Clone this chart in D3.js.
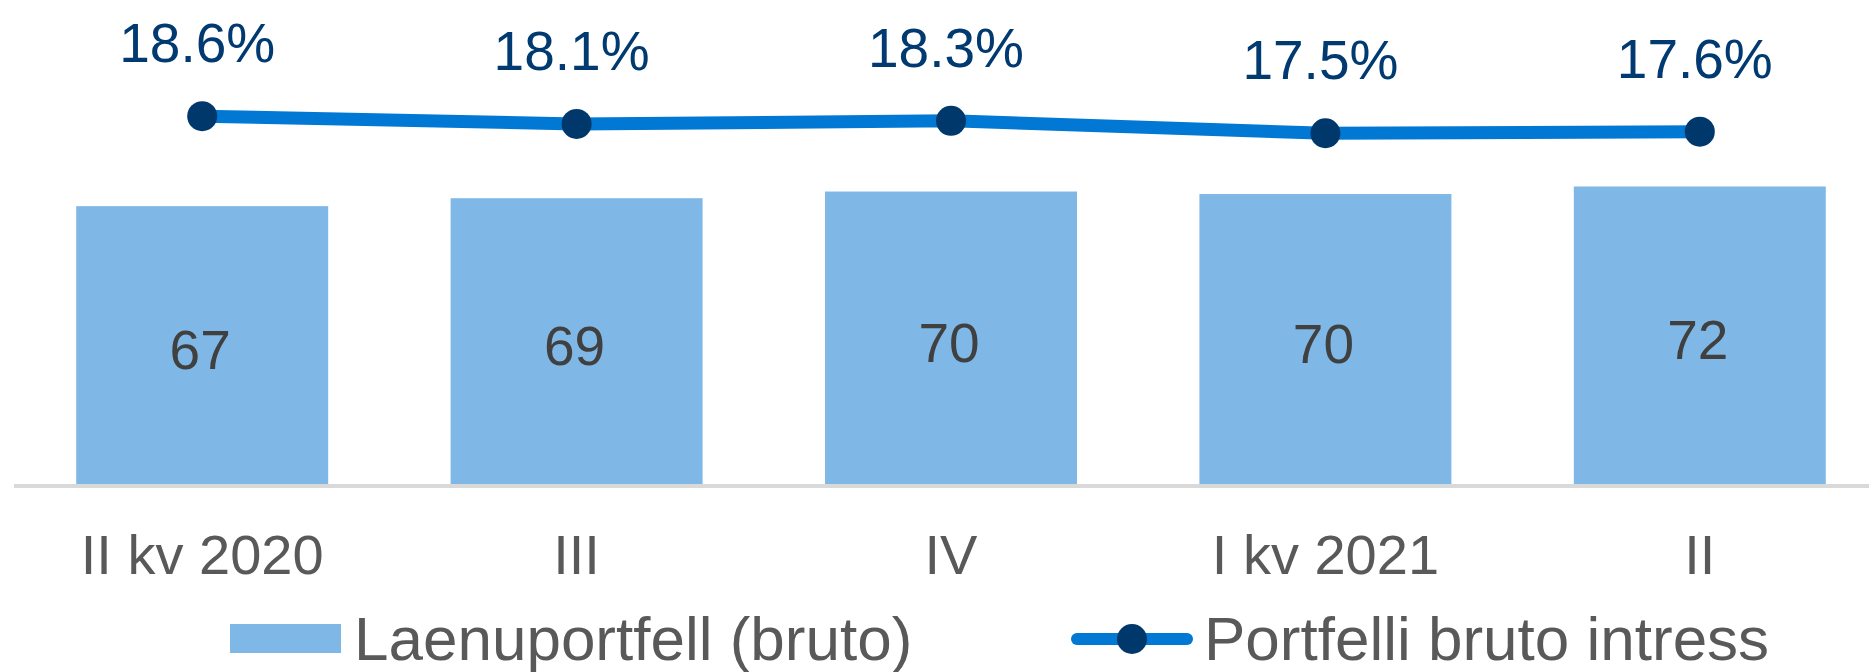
<!DOCTYPE html>
<html>
<head>
<meta charset="utf-8">
<script src="https://cdn.jsdelivr.net/npm/d3@7"></script>
<style>
  html, body { margin: 0; padding: 0; background: #fff; }
  svg { display: block; font-family: "Liberation Sans", Arial, sans-serif; }
</style>
</head>
<body>
<script>
// chart data
var categories = ["II kv 2020", "III", "IV", "I kv 2021", "II"];
var portfolio = [66.9, 68.8, 70.4, 69.8, 71.6];     // Laenuportfell (bruto)
var interest = [18.6, 18.1, 18.3, 17.5, 17.6];      // Portfelli bruto intress, %
var seriesNames = ["Laenuportfell (bruto)", "Portfelli bruto intress"];

var size = { x: 1869, y: 672 };
var baseY = 486;

var svg = d3.select("body").append("svg")
    .attr("width", size.x)
    .attr("height", size.y);

var x = d3.scaleBand()
    .domain(categories)
    .range([15, 1887])
    .paddingInner(0.327)
    .paddingOuter(0.1635);

var y = d3.scaleLinear()
    .domain([0, 100])
    .range([baseY, baseY - 418.3]);

var y2 = d3.scaleLinear()
    .domain([16, 19])
    .range([156.5, 110]);

function cx(d) { return x(d) + x.bandwidth() / 2; }

// bars
svg.append("g").selectAll("rect")
    .data(portfolio)
    .enter().append("rect")
      .attr("x", (d, i) => x(categories[i]))
      .attr("y", d => y(d))
      .attr("width", x.bandwidth())
      .attr("height", d => baseY - y(d))
      .attr("fill", "#7fb8e6");

// bar labels
svg.append("g").selectAll("text")
    .data(portfolio)
    .enter().append("text")
      .attr("x", (d, i) => cx(categories[i]) - 2)
      .attr("y", d => (y(d) + baseY) / 2 + 23)
      .attr("text-anchor", "middle")
      .attr("font-size", 55)
      .attr("fill", "#404040")
      .text(d => Math.round(d));

// category axis
var axis = svg.append("g")
    .attr("transform", "translate(0," + baseY + ")")
    .call(d3.axisBottom(x).tickSize(0).tickPadding(0));
axis.select(".domain").remove();
axis.append("line")
    .attr("x1", 14).attr("x2", size.x)
    .attr("stroke", "#d9d9d9")
    .attr("stroke-width", 4);
axis.selectAll(".tick text")
    .attr("dy", 0)
    .attr("y", 574 - baseY)
    .attr("font-size", 56)
    .attr("font-family", "Liberation Sans, Arial, sans-serif")
    .attr("fill", "#595959");

// interest line
var line = d3.line()
    .x((d, i) => cx(categories[i]))
    .y(d => y2(d));

svg.append("path")
    .datum(interest)
    .attr("d", line)
    .attr("fill", "none")
    .attr("stroke", "#0078d4")
    .attr("stroke-width", 13);

svg.append("g").selectAll("circle")
    .data(interest)
    .enter().append("circle")
      .attr("cx", (d, i) => cx(categories[i]))
      .attr("cy", d => y2(d))
      .attr("r", 15)
      .attr("fill", "#00386c");

svg.append("g").selectAll("text")
    .data(interest)
    .enter().append("text")
      .attr("x", (d, i) => cx(categories[i]) - 5)
      .attr("y", d => y2(d) - 54)
      .attr("text-anchor", "middle")
      .attr("font-size", 55)
      .attr("fill", "#003a70")
      .text(d => d.toFixed(1) + "%");

// legend
var legend = svg.append("g");
legend.append("rect")
    .attr("x", 230).attr("y", 624)
    .attr("width", 111).attr("height", 29)
    .attr("fill", "#7fb8e6");
legend.append("text")
    .attr("x", 354).attr("y", 660)
    .attr("font-size", 62)
    .attr("fill", "#595959")
    .text(seriesNames[0]);

legend.append("line")
    .attr("x1", 1077).attr("x2", 1187)
    .attr("y1", 639).attr("y2", 639)
    .attr("stroke", "#0078d4")
    .attr("stroke-width", 12)
    .attr("stroke-linecap", "round");
legend.append("circle")
    .attr("cx", 1132).attr("cy", 639)
    .attr("r", 15)
    .attr("fill", "#00386c");
legend.append("text")
    .attr("x", 1204).attr("y", 660)
    .attr("font-size", 62)
    .attr("fill", "#595959")
    .text(seriesNames[1]);
</script>
</body>
</html>
